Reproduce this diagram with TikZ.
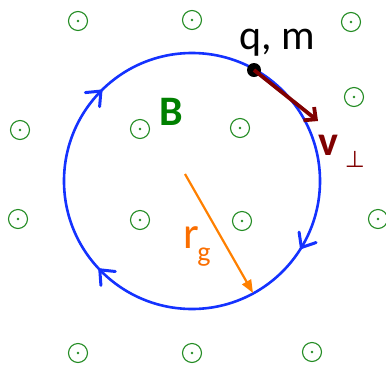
\documentclass[tikz,border=0pt]{standalone}
\usepackage{fontspec}
\setmainfont{Carlito}
\newfontfamily\symfont{DejaVu Sans}
\usetikzlibrary{arrows.meta,decorations.markings}
\definecolor{fieldgreen}{RGB}{34,139,34}
\definecolor{bgreen}{RGB}{0,128,0}
\definecolor{orbitblue}{RGB}{20,50,255}
\definecolor{vred}{RGB}{128,0,0}
\definecolor{rorange}{RGB}{255,128,0}
\definecolor{rtext}{RGB}{250,110,0}
\tikzset{
  bfield/.style={circle,draw=fieldgreen,line width=1.1pt,minimum size=19pt,inner sep=0pt,
    path picture={\fill[fieldgreen] (path picture bounding box.center) circle (1.4pt);}},
  particle/.style={circle,fill=black,minimum size=14pt,inner sep=0pt},
  chevron/.style={draw=orbitblue,line width=3pt,line join=round,line cap=round},
  orbit/.style={draw=orbitblue,line width=2.6pt,postaction={decorate},
    decoration={markings,
      mark=at position 0.087 with {\draw[chevron] (-12pt,10pt) -- (0pt,0pt) -- (-12pt,-10pt);},
      mark=at position 0.378 with {\draw[chevron] (-12pt,10pt) -- (0pt,0pt) -- (-12pt,-10pt);},
      mark=at position 0.624 with {\draw[chevron] (-12pt,10pt) -- (0pt,0pt) -- (-12pt,-10pt);}}},
  lbl/.style={inner sep=0pt,anchor=base}
}
\begin{document}
\begin{tikzpicture}[x=1pt,y=-1pt]
\useasboundingbox (0,0) rectangle (386,368);
% field markers
\foreach \n/\px/\py in {1/78/21,2/192/20,3/351/22,4/354/97,5/20/130,6/140/129,7/240/128,
  8/18/219,9/140/220,10/242/221,11/378/219,12/78/353,13/192/353,14/312/352}
  \node[bfield] (b\n) at (\px,\py) {};
% orbit
\coordinate (c) at (192,181);
\draw[orbit] (c) ++(0:128) arc[start angle=0,end angle=360,radius=128];
% particle and velocity
\node[particle] (q) at (254,70) {};
\coordinate (vtip) at (318,121);
\draw[vred,line width=3.8pt,-{Straight Barb[length=9pt,width=17pt,line width=3.8pt]}] (q.center) -- (vtip);
% radius
\coordinate (rs) at (185,174);
\coordinate (re) at (253,293);
\draw[rorange,line width=2.2pt,-{Triangle[length=13pt,width=10pt]}] (rs) -- (re);
% labels
\node[lbl] (qm) at (277,49) {\fontsize{42}{50}\selectfont q, m};
\node[lbl,text=bgreen] (B) at (171.5,125) {\fontsize{42}{50}\selectfont\bfseries B};
\node[lbl,text=vred] (v) at (328,155) {\fontsize{42}{50}\selectfont\bfseries v};
\node[lbl,text=vred] (perp) at (355,167) {\fontsize{23}{28}\selectfont\symfont ⊥};
\node[lbl,text=rtext] (r) at (191,248) {\fontsize{45}{52}\selectfont r};
\node[lbl,text=rtext] (g) at (204,261) {\fontsize{28}{32}\selectfont g};
\end{tikzpicture}
\end{document}
